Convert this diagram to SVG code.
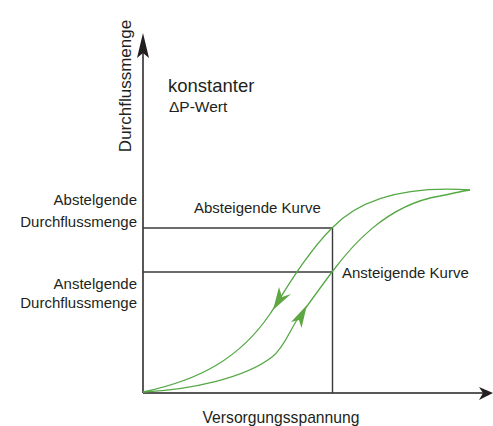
<svg xmlns="http://www.w3.org/2000/svg" width="493" height="426" viewBox="0 0 493 426">
<style>
text{font-family:"Liberation Sans",Arial,sans-serif;fill:#231f20}
.ax{stroke:#231f20;stroke-width:1.5;fill:none}
.gd{stroke:#3a3a3a;stroke-width:1.4;fill:none}
.cv{stroke:#55a845;stroke-width:1.3;fill:none}
.ah{fill:#231f20}
.gh{fill:#5fa743}
</style>
<rect width="493" height="426" fill="#fff"/>
<g id="axes">
<line class="ax" x1="143" y1="393" x2="143" y2="45"/>
<polygon class="ah" points="143,33 149,58 143,53 137,58"/>
<line class="ax" x1="143" y1="393" x2="484" y2="393"/>
<polygon class="ah" points="493,393 479,400 483,393 479,387"/>
</g>
<g id="guides">
<line class="gd" x1="143" y1="228" x2="333" y2="228"/>
<line class="gd" x1="143" y1="272" x2="333" y2="272"/>
<line class="gd" x1="332.5" y1="228" x2="332.5" y2="393"/>
</g>
<g id="connectors">
<path id="descending" class="cv" d="M143,392 C200,380 240,358 270,314 C282,296 305,255 332,228 C355,204 395,185 470,190"/>
<path id="ascending" class="cv" d="M143,392 C190,390 245,378 272,357 C284,348 290,330 297,320 C310,302 320,288 332,272 C350,248 385,205 440,196 C455,193 462,191 470,190"/>
<polygon class="gh" points="273,310 279,287 282,297 291,294"/>
<polygon class="gh" points="307,305 301.5,328 299,320 291,322"/>
</g>
<g id="labels">
<text x="125" y="86" font-size="17" text-anchor="middle" transform="rotate(-90 125 86)" dy="6">Durchflussmenge</text>
<text x="168" y="92" font-size="18.5">konstanter</text>
<text x="169" y="112" font-size="15.5">ΔP-Wert</text>
<text x="137" y="205" font-size="15" text-anchor="end">Abstelgende</text>
<text x="137" y="227" font-size="15" text-anchor="end">Durchflussmenge</text>
<text x="137" y="289" font-size="15" text-anchor="end">Anstelgende</text>
<text x="137" y="308" font-size="15" text-anchor="end">Durchflussmenge</text>
<text x="194" y="213" font-size="15">Absteigende Kurve</text>
<text x="342" y="278" font-size="15">Ansteigende Kurve</text>
<text x="281" y="423" font-size="15.7" text-anchor="middle">Versorgungsspannung</text>
</g>
</svg>
